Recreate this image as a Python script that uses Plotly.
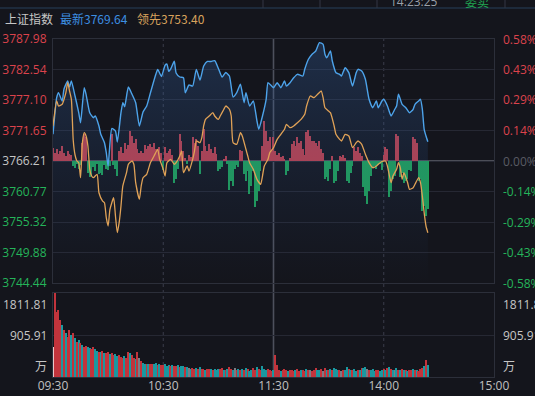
import plotly.graph_objects as go

# ---------------- data ----------------
index_name = "上证指数"
prev_close = 3766.21
last_price = 3769.64
lead_last = 3753.40

price_ticks = [3744.44, 3749.88, 3755.32, 3760.77, 3766.21, 3771.65, 3777.10, 3782.54, 3787.98]
pct_labels = ["-0.58%", "-0.43%", "-0.29%", "-0.14%", "0.00%", "0.14%", "0.29%", "0.43%", "0.58%"]
time_ticks = [0, 60, 120, 180, 240]          # minutes since 09:30 (lunch break removed)
time_labels = ["09:30", "10:30", "11:30", "14:00", "15:00"]
vol_max = 1811.81
vol_mid = 905.91
vol_unit = "万"

# 最新 (index) — minutes since open, price
latest_t = [0, 2, 3, 5, 6, 8, 9, 10, 12, 14, 15, 17, 18, 20, 22, 23, 25, 26, 28, 29, 30, 32, 34, 35, 37, 38, 39, 41, 43, 45,
            47, 49, 51, 53, 56, 57, 59, 61, 62, 63, 64, 66, 67, 69, 71, 72, 74, 76, 78, 80, 82, 84, 86, 88, 90, 92, 94, 96, 98, 100,
            102, 104, 105, 107, 109, 111, 112, 114, 116, 117, 119, 120, 122, 124, 126, 127, 129, 131, 133, 136, 137, 139, 141, 143, 145, 147, 148, 149, 151, 152,
            154, 156, 157, 159, 161, 163, 165, 166, 168, 170, 172, 174, 176, 177, 179, 180, 182, 184, 186, 187, 188, 190, 192, 194, 196, 197, 199, 200, 201, 202,
            203, 204]
latest_p = [3770.98, 3777.51, 3778.40, 3776.92, 3779.06, 3780.49, 3779.40, 3780.50, 3777.81, 3774.83, 3773.04, 3779.29, 3778.11, 3774.83, 3773.94, 3774.24, 3772.46, 3770.97, 3769.48, 3767.69,
            3765.32, 3772.00, 3771.56, 3769.60, 3774.83, 3776.61, 3775.90, 3779.41, 3778.11, 3776.61, 3772.46, 3774.95, 3776.02, 3778.34, 3781.73, 3782.54, 3781.29, 3783.30, 3783.50, 3782.20,
            3782.60, 3784.00, 3781.91, 3781.20, 3781.08, 3778.40, 3779.77, 3779.59, 3782.54, 3780.66, 3783.16, 3783.97, 3783.97, 3784.10, 3782.72, 3781.20, 3782.00, 3781.38, 3777.63, 3778.40,
            3779.90, 3776.61, 3778.40, 3776.02, 3776.92, 3773.35, 3771.87, 3774.24, 3777.22, 3780.18, 3779.59, 3779.29, 3780.18, 3779.29, 3780.49, 3779.59, 3780.18, 3781.07, 3781.68, 3781.38,
            3782.57, 3784.36, 3785.25, 3785.84, 3787.32, 3787.03, 3785.25, 3784.64, 3785.84, 3784.05, 3781.97, 3781.68, 3781.38, 3782.86, 3781.97, 3779.59, 3781.97, 3782.57, 3782.27, 3780.79,
            3777.22, 3775.72, 3776.92, 3775.72, 3776.92, 3777.22, 3776.02, 3774.24, 3775.44, 3776.02, 3778.11, 3776.33, 3775.72, 3774.83, 3775.44, 3776.33, 3776.92, 3777.22, 3775.44, 3771.87,
            3770.67, 3769.64]

# 领先 (leading index)
lead_t = [0, 2, 3, 5, 7, 8, 9, 10, 11, 12, 13, 14, 15, 16, 17, 18, 19, 20, 21, 22, 24, 25, 27, 28, 29, 30, 31, 33, 34, 35,
          36, 37, 38, 40, 41, 43, 44, 45, 47, 48, 49, 51, 53, 55, 57, 58, 60, 61, 62, 64, 66, 67, 69, 70, 71, 73, 74, 76, 77, 78,
          80, 81, 82, 83, 85, 87, 88, 90, 91, 93, 94, 96, 97, 98, 100, 102, 103, 105, 106, 107, 109, 111, 113, 114, 115, 117, 118, 120, 122, 124,
          126, 127, 129, 131, 133, 135, 137, 138, 140, 142, 144, 146, 147, 148, 150, 151, 153, 154, 156, 157, 159, 161, 163, 165, 166, 168, 170, 172, 174, 176,
          177, 179, 181, 182, 184, 185, 187, 188, 189, 190, 191, 193, 194, 196, 197, 199, 200, 201, 202, 203, 204]
lead_p = [3772.46, 3776.92, 3776.02, 3776.33, 3778.40, 3780.18, 3778.70, 3777.22, 3769.96, 3767.28, 3766.21, 3765.91, 3763.23, 3769.48, 3771.26, 3770.67, 3768.89, 3764.73, 3763.53, 3763.23,
          3763.84, 3760.55, 3759.07, 3758.77, 3756.09, 3754.61, 3757.59, 3759.66, 3756.40, 3753.42, 3755.20, 3758.18, 3761.75, 3764.12, 3765.62, 3766.21, 3765.62, 3762.34, 3759.38, 3761.75,
          3763.23, 3763.84, 3765.91, 3767.10, 3768.30, 3766.60, 3764.73, 3763.53, 3765.91, 3766.51, 3765.62, 3765.91, 3767.10, 3767.99, 3764.12, 3765.32, 3764.43, 3766.51, 3767.99, 3769.78,
          3769.48, 3770.37, 3772.46, 3773.65, 3774.24, 3774.83, 3774.24, 3773.65, 3774.24, 3775.44, 3776.02, 3775.44, 3774.24, 3769.48, 3769.19, 3771.26, 3770.67, 3768.30, 3767.10, 3765.91,
          3764.73, 3762.94, 3762.05, 3763.53, 3765.32, 3766.51, 3767.73, 3768.58, 3770.08, 3770.97, 3771.87, 3772.76, 3772.15, 3772.46, 3773.04, 3773.65, 3774.54, 3776.02, 3777.81, 3777.51,
          3778.11, 3778.70, 3777.51, 3775.72, 3775.13, 3774.83, 3772.46, 3770.97, 3770.08, 3769.78, 3770.97, 3770.67, 3768.58, 3769.48, 3769.78, 3769.19, 3767.41, 3765.91, 3765.01, 3765.32,
          3765.62, 3766.12, 3766.21, 3765.32, 3762.34, 3763.53, 3764.73, 3765.91, 3765.01, 3762.94, 3764.12, 3762.34, 3761.16, 3761.45, 3762.05, 3763.23, 3762.34, 3759.96, 3756.98, 3754.61,
          3753.40]

# buy/sell force per minute (positive = red, negative = green), minute 0..204
breadth = [13, 8, 12, 7, 10, 15, 8, 5, 10, 7, 6, -5, -7, -3, -8, -4, 18, 27, 24, -12,
           -16, -14, -6, -10, -3, -13, -12, -14, -4, -8, -9, -5, 27, -4, -8, -15, 10, 14, 8, 18,
           12, 16, 30, 25, 18, 22, 12, 8, 10, 8, 16, 12, 15, 17, 14, 18, 12, 10, 14, 8,
           -9, 14, 8, 10, 12, 6, -22, -18, -8, 27, 20, 10, 3, -3, 6, 4, 24, 18, 22, 15,
           -13, 10, 32, 15, 10, 17, 12, 8, 14, 7, -10, -8, -6, 2, 5, -3, -29, -20, -25, -8,
           -4, -6, 11, 10, -13, -20, -10, -33, -25, -10, -46, -40, -30, -10, 15, 40, 30, 20, 24, 10,
           24, 10, 6, 8, 4, 5, 2, -14, -10, 3, 17, 20, 15, 24, 18, 20, 12, 6, 29, 31,
           25, 20, 20, 18, 15, 20, 12, 8, -18, -16, -20, -8, 5, -22, -20, -10, 5, 4, 6, 3,
           -20, -22, -12, -5, 14, 10, 14, 8, 5, -26, -35, -43, -30, -15, -6, -5, -8, -4, -3, -9,
           6, 14, 12, -36, -30, -18, -15, 27, 25, -16, -12, -22, -20, -18, -9, -10, 24, 22, 18, -20,
           -18, -50, -45, -55, -48]

# volume per minute (万)
volume = [650, 1805, 1409, 1445, 1230, 1122, 1014, 949, 870, 1014, 906, 949, 841, 762, 798, 733, 690, 654, 670, 640,
          626, 610, 640, 600, 560, 546, 530, 560, 520, 517, 530, 500, 520, 474, 490, 460, 474, 438, 420, 450,
          400, 546, 520, 480, 420, 380, 546, 400, 350, 300, 290, 280, 290, 275, 270, 280, 300, 260, 270, 250,
          260, 270, 240, 250, 230, 260, 240, 230, 250, 220, 240, 230, 210, 220, 190, 180, 200, 170, 190, 175,
          210, 180, 170, 160, 175, 165, 180, 160, 170, 150, 165, 175, 200, 160, 150, 170, 220, 180, 160, 190,
          150, 170, 160, 180, 150, 200, 170, 140, 160, 190, 150, 220, 180, 160, 230, 180, 150, 170, 160, 140,
          150, 474, 250, 160, 140, 150, 170, 160, 140, 150, 160, 140, 150, 170, 140, 160, 150, 140, 170, 150,
          160, 140, 150, 200, 160, 150, 170, 140, 200, 150, 160, 180, 150, 200, 170, 160, 150, 140, 160, 150,
          210, 180, 160, 150, 170, 140, 160, 150, 190, 200, 220, 180, 160, 150, 170, 140, 150, 160, 140, 150,
          170, 160, 190, 210, 170, 160, 150, 200, 150, 160, 170, 150, 160, 140, 150, 160, 170, 150, 160, 140,
          170, 200, 230, 367, 250]

# minute direction: p = auction, r = up, t = down, g = flat
vol_dir = "".join([
    "prrrrtrtrr", "trtrtrtrrt", "trrttrtrtr", "rtrrttrrrt", "rrtrrtrgrt",
    "trtrrttrtr", "rtttrtrrtr", "ttrtgtrrtr", "trrtrrtrtt", "trrtrtrrtg",
    "rtrtrtrttr", "rtrrtttrrr", "trrrtrrrtr", "rrtrrtrrtr", "grrrttrgrt",
    "rtrtttrgrt", "trtrttrtrt", "tgrtttrrtt", "rtrtrtgtrt", "rtrtrrtrtr",
    "rrtrt",
])

# ---------------- styling ----------------
BG = "#14151c"
GRID = "#262833"
BORDER = "#2c2f3a"
RED_TXT = "#dc434c"
GREEN_TXT = "#25b45a"
GREY_TXT = "#c6c6c6"
BLUE = "#4da3ea"
ORANGE = "#e0a257"
FONT = "Open Sans, Noto Sans CJK SC, sans-serif"
CJK = "Noto Sans CJK SC, Open Sans, sans-serif"

W, H = 535, 396
ML, MR, MT, MB = 53, 41, 39, 19
PW, PH = W - ML - MR, H - MT - MB
price_dom = [1 - 244 / PH, 1]
vol_dom = [0, 84 / PH]


def px_x(px):
    return (px - ML) / PW


def px_y(py):
    return (H - MB - py) / PH


minutes = list(range(len(breadth)))

fig = go.Figure()

# breadth bars (base axis y)
fig.add_trace(go.Bar(
    x=minutes, y=breadth, base=0, width=0.7,
    marker=dict(color=["#bd3f4b" if v > 0 else "#1f9f58" for v in breadth], line=dict(width=0)),
    xaxis="x", yaxis="y", showlegend=False, hoverinfo="skip"))

# baseline for gradient fill under latest price
fig.add_trace(go.Scatter(
    x=latest_t, y=[price_ticks[0]] * len(latest_t), mode="lines",
    line=dict(width=0, color="rgba(0,0,0,0)"), xaxis="x", yaxis="y3",
    showlegend=False, hoverinfo="skip"))
fig.add_trace(go.Scatter(
    x=latest_t, y=latest_p, mode="lines", fill="tonexty",
    fillgradient=dict(type="vertical",
                      colorscale=[[0, "rgba(40,80,140,0)"], [1, "rgba(55,105,175,0.30)"]]),
    line=dict(color=BLUE, width=1.4, shape="spline", smoothing=0.5),
    xaxis="x", yaxis="y3", showlegend=False, hoverinfo="skip"))
fig.add_trace(go.Scatter(
    x=lead_t, y=lead_p, mode="lines",
    line=dict(color=ORANGE, width=1.3, shape="spline", smoothing=0.5),
    xaxis="x", yaxis="y3", showlegend=False, hoverinfo="skip"))

# volume bars
vol_colors = {"p": "#e8c6c8", "r": "#c2343c", "t": "#1a98a0", "g": "#7b7c84"}
fig.add_trace(go.Bar(
    x=minutes, y=volume, width=0.75,
    marker=dict(color=[vol_colors[c] for c in vol_dir[:len(volume)]], line=dict(width=0)),
    xaxis="x2", yaxis="y2", showlegend=False, hoverinfo="skip"))


def colored(text, color):
    return f'<span style="color:{color}">{text}</span>'


left_text, right_colors = [], []
for v in price_ticks:
    if v > prev_close + 0.001:
        c, cr = RED_TXT, RED_TXT
    elif v < prev_close - 0.001:
        c, cr = GREEN_TXT, GREEN_TXT
    else:
        c, cr = GREY_TXT, "#5a5c64"
    left_text.append(colored(f"{v:.2f}", c))
    right_colors.append(cr)

shapes = []
# vertical time lines
for t, dash, col, w in [(60, "dot", "#3a3d4a", 1), (180, "dot", "#3a3d4a", 1), (120, "solid", "#4d505c", 1.6)]:
    shapes.append(dict(type="line", xref="x", yref="paper", x0=t, x1=t, y0=0, y1=1,
                       line=dict(color=col, width=w, dash=dash), layer="below"))
# previous close line
shapes.append(dict(type="line", xref="x", yref="y3", x0=0, x1=240, y0=prev_close, y1=prev_close,
                   line=dict(color="#5f626c", width=1.3), layer="below"))
# top info strip
shapes.append(dict(type="line", xref="paper", yref="paper", x0=px_x(0), x1=px_x(W), y0=px_y(8), y1=px_y(8),
                   line=dict(color="#26405a", width=1)))
for dx in [263, 320, 377, 505]:
    shapes.append(dict(type="line", xref="paper", yref="paper", x0=px_x(dx), x1=px_x(dx), y0=px_y(0), y1=px_y(8),
                       line=dict(color="#323744", width=1)))

annotations = [
    dict(text=index_name, x=px_x(3), y=px_y(18), font=dict(color=GREY_TXT, size=12, family=CJK)),
    dict(text=f"最新{last_price:.2f}", x=px_x(58), y=px_y(18), font=dict(color="#3d8fe2", size=12, family=CJK)),
    dict(text=f"领先{lead_last:.2f}", x=px_x(135), y=px_y(18), font=dict(color="#d8a25c", size=12, family=CJK)),
    dict(text="14:23:25", x=px_x(388), y=px_y(1), font=dict(color="#9aa0a8", size=12, family=FONT)),
    dict(text="委卖", x=px_x(463), y=px_y(1), font=dict(color="#20a552", size=12, family=CJK)),
]
for a in annotations:
    a.update(xref="paper", yref="paper", xanchor="left", yanchor="middle", showarrow=False)

# right-hand percentage labels
for v, lab, col in zip(price_ticks, pct_labels, right_colors):
    annotations.append(dict(text=lab, x=1, xref="paper", y=v, yref="y3", xanchor="left", yanchor="middle",
                            xshift=7, showarrow=False, font=dict(color=col, size=12, family=FONT)))

for xpos, xanchor, xshift, lab_top in [(0, "right", -4, f"{vol_max:.2f}"), (1, "left", 7, f"{vol_max:.2f}")]:
    annotations += [
        dict(text=lab_top, x=xpos, xref="paper", y=vol_max, yref="y2", xanchor=xanchor, yanchor="top",
             xshift=xshift, yshift=-1, showarrow=False, font=dict(color=GREY_TXT, size=12, family=FONT)),
        dict(text=f"{vol_mid:.2f}", x=xpos, xref="paper", y=vol_mid, yref="y2", xanchor=xanchor, yanchor="middle",
             xshift=xshift, showarrow=False, font=dict(color=GREY_TXT, size=12, family=FONT)),
        dict(text=vol_unit, x=xpos, xref="paper", y=0, yref="y2", xanchor=xanchor, yanchor="bottom",
             xshift=xshift, yshift=1, showarrow=False, font=dict(color=GREY_TXT, size=12, family=CJK)),
    ]

fig.update_layout(
    width=W, height=H, margin=dict(l=ML, r=MR, t=MT, b=MB, pad=0, autoexpand=False),
    paper_bgcolor=BG, plot_bgcolor=BG, bargap=0, barmode="overlay",
    font=dict(family=FONT, size=12, color=GREY_TXT),
    showlegend=False, hovermode=False,
    xaxis=dict(domain=[0, 1], range=[0, 240], anchor="y", showticklabels=False, showgrid=False, automargin=False,
               zeroline=False, showline=True, mirror=True, linecolor=BORDER, linewidth=1),
    xaxis2=dict(domain=[0, 1], range=[0, 240], anchor="y2", matches="x", tickvals=time_ticks, ticktext=time_labels,
                showgrid=False, zeroline=False, showline=True, mirror=True, linecolor=BORDER, linewidth=1,
                automargin=False, ticks="", tickfont=dict(color="#c0c0c0", size=12), ticklabelstandoff=-2),
    yaxis=dict(domain=price_dom, range=[-122, 122], anchor="x", visible=False, fixedrange=True, automargin=False),
    yaxis2=dict(domain=vol_dom, range=[0, vol_max], anchor="x2", tickvals=[vol_mid, vol_max], showticklabels=False,
                automargin=False, showgrid=True, gridcolor=GRID, zeroline=False, showline=True, mirror=True,
                linecolor=BORDER, ticks=""),
    yaxis3=dict(overlaying="y", anchor="x", side="left", range=[price_ticks[0], price_ticks[-1]], automargin=False,
                tickvals=price_ticks, ticktext=left_text, showgrid=True, gridcolor=GRID, zeroline=False,
                showline=True, mirror=True, linecolor=BORDER, ticks="", tickfont=dict(size=12), ticklabelstandoff=3),
    shapes=shapes, annotations=annotations,
)

fig.write_html("out.html", config={"displayModeBar": False},
               post_script="document.body.style.margin='0';document.body.style.background='#14151c';")
